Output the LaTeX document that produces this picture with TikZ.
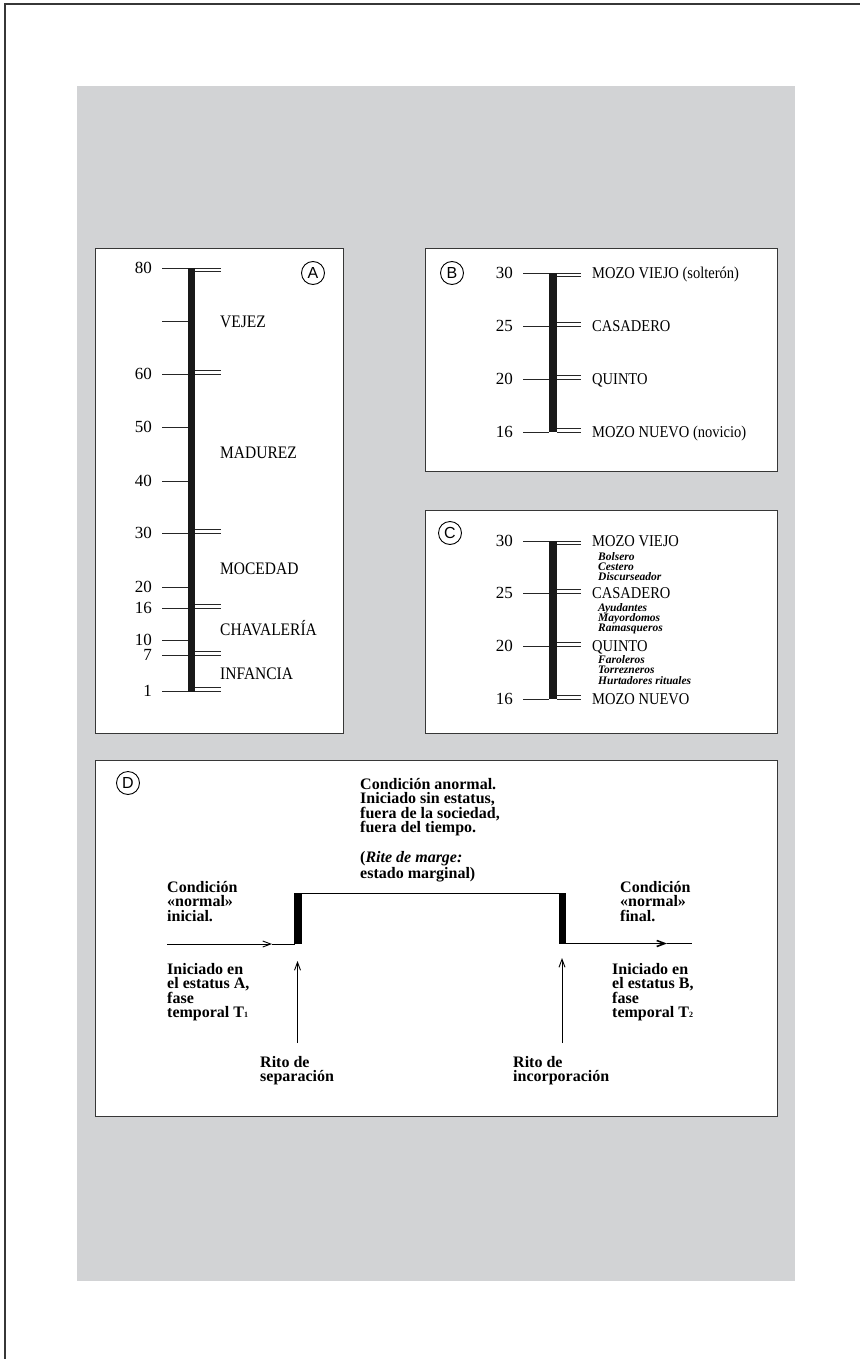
\documentclass[tikz,border=0pt]{standalone}
\usepackage{fontspec}
\setmainfont{Liberation Serif}
\newfontfamily\labfont[FakeStretch=0.88]{Liberation Serif}
\newfontfamily\circfont{Liberation Sans}
\usetikzlibrary{arrows.meta}
\definecolor{bg}{RGB}{210,211,213}
\definecolor{frm}{RGB}{55,55,55}
\begin{document}
\begin{tikzpicture}[x=1pt,y=-1pt,
  boxst/.style={draw=frm,line width=1pt,fill=white},
  barst/.style={fill=black!90,draw=none},
  tickst/.style={draw=black!85,line width=0.9pt},
  num/.style={anchor=east,inner sep=0pt,font=\fontsize{17}{17}\selectfont},
  lab/.style={anchor=base west,inner sep=0pt,font=\labfont\fontsize{16.5}{16.5}\selectfont},
  laba/.style={lab,font=\labfont\fontsize{17.6}{17.6}\selectfont},
  subl/.style={anchor=base west,inner sep=0pt,font=\bfseries\itshape\fontsize{11.5}{10}\selectfont},
  circ/.style={circle,draw=black,line width=0.9pt,inner sep=0pt,minimum size=23pt,font=\circfont\fontsize{16}{16}\selectfont},
  dtext/.style={anchor=north west,inner sep=0pt,align=left,font=\bfseries\fontsize{16}{14.5}\selectfont},
  barb/.style={-{Straight Barb[length=8pt,width=6pt]}},
  conn/.style={draw=black,line width=0.9pt},
]
\useasboundingbox (0,0) rectangle (860,1359);
\fill[white] (0,0) rectangle (860,1359);
\draw[frm,line width=1.2pt] (5,1359) -- (5,4) -- (860,4);
\fill[bg] (77,86) rectangle (795,1281);

% boxes
\draw[boxst] (95,248) rectangle (343,733);
\draw[boxst] (425,248) rectangle (777,471);
\draw[boxst] (425,510) rectangle (777,733);
\draw[boxst] (95,760) rectangle (777,1116);

% ---------- A ----------
\node[circ] (cA) at (313,273) {A};
\fill[barst] (188,268) rectangle (195,692);
\foreach \y/\t [count=\i] in {268/80,321/{},374/60,427/50,481/40,533/30,587/20,608/16,640/10,655/7,691/1}{
  \draw[tickst] (162,\y) -- (188,\y);
  \node[num] (nA\i) at (152,\y) {\t};
}
\draw[tickst] (195,268) -- (221,268) (195,271.5) -- (221,271.5);
\foreach \y in {374,533,608,655,691}{
  \draw[tickst] (195,\y) -- (221,\y) (195,\y-3.5) -- (221,\y-3.5);
}
\node[laba] (vejez) at (220,327) {VEJEZ};
\node[laba] (madurez) at (220,458) {MADUREZ};
\node[laba] (mocedad) at (220,574) {MOCEDAD};
\node[laba] (chav) at (220,635) {CHAVALERÍA};
\node[laba] (inf) at (220,679) {INFANCIA};

% ---------- B ----------
\node[circ] (cB) at (452,273) {B};
\fill[barst] (549,273) rectangle (557,432);
\foreach \y/\t [count=\i] in {273/30,326/25,379/20,432/16}{
  \draw[tickst] (523,\y) -- (549,\y);
  \node[num] (nB\i) at (513,\y) {\t};
}
\draw[tickst] (557,273) -- (581,273) (557,276.5) -- (581,276.5);
\foreach \y in {326,379,432}{
  \draw[tickst] (557,\y) -- (581,\y) (557,\y-3.5) -- (581,\y-3.5);
}
\node[lab] (bl1) at (592,278.5) {MOZO VIEJO (solterón)};
\node[lab] (bl2) at (592,331.5) {CASADERO};
\node[lab] (bl3) at (592,384.5) {QUINTO};
\node[lab] (bl4) at (592,437.5) {MOZO NUEVO (novicio)};

% ---------- C ----------
\node[circ] (cC) at (450,533) {C};
\fill[barst] (549,541) rectangle (557,699);
\foreach \y/\t [count=\i] in {541/30,593/25,646/20,699/16}{
  \draw[tickst] (523,\y) -- (549,\y);
  \node[num] (nC\i) at (513,\y) {\t};
}
\draw[tickst] (557,541) -- (581,541) (557,544.5) -- (581,544.5);
\foreach \y in {593,646,699}{
  \draw[tickst] (557,\y) -- (581,\y) (557,\y-3.5) -- (581,\y-3.5);
}
\node[lab] (cl1) at (592,546.5) {MOZO VIEJO};
\node[lab] (cl2) at (592,598.5) {CASADERO};
\node[lab] (cl3) at (592,651.5) {QUINTO};
\node[lab] (cl4) at (592,704.5) {MOZO NUEVO};
\node[subl] (s1) at (598,560) {Bolsero};
\node[subl] (s2) at (598,570) {Cestero};
\node[subl] (s3) at (598,580) {Discurseador};
\node[subl] (s4) at (598,611) {Ayudantes};
\node[subl] (s5) at (598,621) {Mayordomos};
\node[subl] (s6) at (598,631) {Ramasqueros};
\node[subl] (s7) at (598,663) {Faroleros};
\node[subl] (s8) at (598,673) {Torrezneros};
\node[subl] (s9) at (598,684) {Hurtadores rituales};

% ---------- D ----------
\node[circ] (cD) at (128,783) {D};
\node[dtext] (mid) at (360,778) {Condición anormal.\\Iniciado sin estatus,\\fuera de la sociedad,\\fuera del tiempo.\\[14.5pt](\textit{Rite de marge:}\\estado marginal)};
\node[dtext] (lt) at (167,881) {Condición\\«normal»\\inicial.};
\node[dtext] (lb) at (167,963) {Iniciado en\\el estatus A,\\fase\\temporal T{\fontsize{8}{8}\selectfont 1}};
\node[dtext] (rt) at (620,881) {Condición\\«normal»\\final.};
\node[dtext] (rb) at (612,963) {Iniciado en\\el estatus B,\\fase\\temporal T{\fontsize{8}{8}\selectfont 2}};
\node[dtext] (rs) at (260,1056) {Rito de\\separación};
\node[dtext] (ri) at (513,1056) {Rito de\\incorporación};

\coordinate (a0) at (167,944);
\coordinate (am) at (272,944);
\coordinate (a1) at (295,944);
\draw[conn,barb] (a0) -- (am);
\draw[conn] (am) -- (a1);
\fill[black] (294,893) rectangle (302,944);
\coordinate (t0) at (302,893.5);
\coordinate (t1) at (559,893.5);
\draw[conn,line width=1pt] (t0) -- (t1);
\fill[black] (559,893) rectangle (566,944);
\coordinate (b0) at (566,943.5);
\coordinate (bm) at (667,943.5);
\coordinate (b1) at (692,943.5);
\draw[conn,line width=1.6pt,barb] (b0) -- (bm);
\draw[conn,line width=1.6pt] (bm) -- (b1);

\coordinate (u0) at (297.5,1043);
\coordinate (u1) at (297.5,961);
\coordinate (v0) at (562,1043);
\coordinate (v1) at (562,958);
\draw[conn,barb] (u0) -- (u1);
\draw[conn,barb] (v0) -- (v1);
\end{tikzpicture}
\end{document}
